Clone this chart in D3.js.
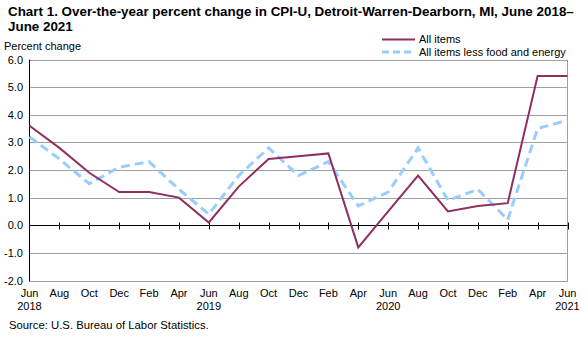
<!DOCTYPE html>
<html><head><meta charset="utf-8">
<script src="https://cdn.jsdelivr.net/npm/d3@7"></script>
<style>body{margin:0;background:#fff}svg{display:block;font-family:"Liberation Sans",Arial,sans-serif}</style>
</head><body><svg id="c" width="588" height="337"></svg>
<script>
const months = ["Jun","Aug","Oct","Dec","Feb","Apr","Jun","Aug","Oct","Dec","Feb","Apr","Jun","Aug","Oct","Dec","Feb","Apr","Jun"];
const years = ["2018","","","","","","2019","","","","","","2020","","","","","","2021"];
const allItems = [3.6,2.8,1.9,1.2,1.2,1.0,0.1,1.4,2.4,2.5,2.6,-0.8,0.5,1.8,0.5,0.7,0.8,5.4,5.4];
const lessFoodEnergy = [3.2,2.4,1.5,2.1,2.3,1.3,0.4,1.8,2.8,1.8,2.3,0.7,1.2,2.8,0.9,1.3,0.2,3.5,3.8];
const yTicks = [-2,-1,0,1,2,3,4,5,6];
const seriesNames = ["All items","All items less food and energy"];

const svg = d3.select("#c");
const L = 29.5, R = 567.5, T = 59.5, B = 280.5;
const x = d3.scaleLinear().domain([0, months.length-1]).range([L, R]);
const y = d3.scaleLinear().domain([-2, 6]).range([B, T]);

// title
svg.append("text").attr("x",8).attr("y",16).attr("font-size",13.4).attr("font-weight","bold").text("Chart 1. Over-the-year percent change in CPI-U, Detroit-Warren-Dearborn, MI, June 2018\u2013");
svg.append("text").attr("x",8).attr("y",31).attr("font-size",13.4).attr("font-weight","bold").text("June 2021");
svg.append("text").attr("x",4).attr("y",50).attr("font-size",11).text("Percent change");

// gridlines
svg.append("g").selectAll("line").data(yTicks.filter(d=>d!==0)).join("line")
  .attr("x1",L).attr("x2",R).attr("y1",d=>Math.round(y(d))+0.5).attr("y2",d=>Math.round(y(d))+0.5)
  .attr("stroke","#a0a0a0").attr("stroke-width",1);
// right border
svg.append("line").attr("x1",R).attr("x2",R).attr("y1",T).attr("y2",B+1).attr("stroke","#a0a0a0");

// y labels
svg.append("g").selectAll("text").data(yTicks).join("text")
  .attr("x",23).attr("y",d=>y(d)+4).attr("text-anchor","end").attr("font-size",11)
  .text(d=>d3.format(".1f")(d).replace("\u2212","-"));

// left axis
svg.append("line").attr("x1",L).attr("x2",L).attr("y1",T).attr("y2",B+1).attr("stroke","#000");
// zero axis
const y0 = Math.round(y(0))+0.5;
svg.append("line").attr("x1",L).attr("x2",R).attr("y1",y0).attr("y2",y0).attr("stroke","#000");
svg.append("g").selectAll("line").data(d3.range(1,months.length)).join("line")
  .attr("x1",d=>Math.round(x(d))+0.5).attr("x2",d=>Math.round(x(d))+0.5)
  .attr("y1",y0-3).attr("y2",y0+4).attr("stroke","#000");

// x labels
svg.append("g").selectAll("text").data(months).join("text")
  .attr("x",(d,i)=>x(i)).attr("y",297).attr("text-anchor","middle").attr("font-size",11).text(d=>d);
svg.append("g").selectAll("text").data(years).join("text")
  .attr("x",(d,i)=>x(i)).attr("y",310).attr("text-anchor","middle").attr("font-size",11).text(d=>d);

// lines
const line = d3.line().x((d,i)=>x(i)).y(d=>y(d));
svg.append("path").datum(lessFoodEnergy).attr("d",line).attr("fill","none")
  .attr("stroke","#99ccff").attr("stroke-width",3).attr("stroke-dasharray","9,5");
svg.append("path").datum(allItems).attr("d",line).attr("fill","none")
  .attr("stroke","#8f2f5f").attr("stroke-width",2);

// legend
svg.append("line").attr("x1",382).attr("x2",415).attr("y1",39.5).attr("y2",39.5).attr("stroke","#8f2f5f").attr("stroke-width",2);
svg.append("line").attr("x1",382).attr("x2",415).attr("y1",52).attr("y2",52).attr("stroke","#99ccff").attr("stroke-width",3).attr("stroke-dasharray","7,4");
svg.append("text").attr("x",419).attr("y",43).attr("font-size",11).text(seriesNames[0]);
svg.append("text").attr("x",419).attr("y",56).attr("font-size",11).text(seriesNames[1]);

// source
svg.append("text").attr("x",9).attr("y",329).attr("font-size",11.3).text("Source: U.S. Bureau of Labor Statistics.");
</script></body></html>
